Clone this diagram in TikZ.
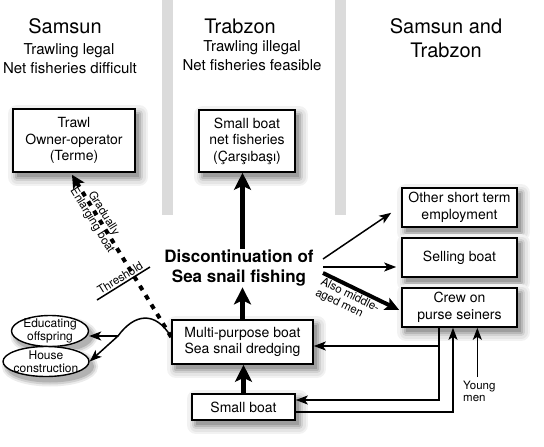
\documentclass[tikz,border=0pt]{standalone}
\usepackage{fontspec}
\setmainfont{TeX Gyre Heros}
\usetikzlibrary{arrows.meta, calc, shapes.geometric}
\tikzset{
  band/.style={fill=black!14, draw=none},
  shad/.style={
    preaction={draw=black!5, fill=black!5, line width=18pt, line join=round, transform canvas={shift={(4pt,-5pt)}}},
    preaction={draw=black!10, fill=black!10, line width=13pt, line join=round, transform canvas={shift={(4pt,-5pt)}}},
    preaction={draw=black!18, fill=black!18, line width=8pt, line join=round, transform canvas={shift={(4pt,-5pt)}}},
    preaction={draw=black!28, fill=black!28, line width=4pt, line join=round, transform canvas={shift={(4pt,-5pt)}}},
    preaction={draw=none, fill=black!38, transform canvas={shift={(4pt,-5pt)}}}},
  ovalshad/.style={
    preaction={draw=black!8, fill=black!8, line width=10pt, transform canvas={shift={(4pt,-5pt)}}},
    preaction={draw=black!18, fill=black!18, line width=6pt, transform canvas={shift={(4pt,-5pt)}}},
    preaction={draw=black!30, fill=black!30, line width=2pt, transform canvas={shift={(4pt,-5pt)}}}},
  box/.style={shad, draw, line width=1.6pt, fill=white, inner sep=0pt, align=center, font=\fontsize{14}{16.5}\selectfont},
  oval/.style={ovalshad, ellipse, draw, line width=1.4pt, fill=white, inner xsep=-4pt, inner ysep=-4pt, align=center, font=\fontsize{12}{12.5}\selectfont},
  ttl/.style={font=\fontsize{20}{24}\selectfont, anchor=base, inner sep=0pt},
  subt/.style={font=\fontsize{15}{18}\selectfont, anchor=base, inner sep=0pt},
  lbl/.style={font=\fontsize{11.5}{12}\selectfont},
  conn/.style={line width=1.5pt},
  thinarr/.style={line width=1.5pt, -{Stealth[length=12pt, width=9pt, inset=3pt]}},
  thickarr/.style={line width=4.5pt, -{Stealth[length=17pt, width=17pt, inset=4pt]}},
  medarr/.style={line width=4pt, -{Stealth[length=14pt, width=13pt, inset=3pt]}},
  dasharr/.style={line width=4pt, dash pattern=on 5pt off 6pt, -{Stealth[length=13pt, width=13pt, inset=3pt]}},
}
\begin{document}
\begin{tikzpicture}[x=1pt, y=-1pt]
\useasboundingbox (0,0) rectangle (544,447);
% background bands
\fill[band] (162,0) rectangle (173,215);
\fill[band] (335,0) rectangle (346,215);

% headers
\node[ttl] (h1) at (65,34) {Samsun};
\node[subt] (h1a) at (69,54) {Trawling legal};
\node[subt] (h1b) at (70,73) {Net fisheries difficult};
\node[ttl] (h2) at (240,33) {Trabzon};
\node[subt] (h2a) at (252,51.5) {Trawling illegal};
\node[subt] (h2b) at (252,70.5) {Net fisheries feasible};
\node[ttl] (h3) at (446,33) {Samsun and};
\node[ttl] (h3b) at (446,57) {Trabzon};

% boxes
\node[box, minimum width=122pt, minimum height=63pt] (trawl) at (74,140.5) {Trawl\\Owner-operator\\(Terme)};
\node[box, minimum width=96pt, minimum height=62pt] (netf) at (247,141) {Small boat\\net fisheries\\(Çarşıbaşı)};
\node[box, minimum width=141pt, minimum height=44pt] (multi) at (242.5,342) {Multi-purpose boat\\Sea snail dredging};
\node[box, minimum width=103pt, minimum height=26pt] (small) at (243.5,407) {Small boat};
\node[box, minimum width=115pt, minimum height=39pt] (other) at (459.5,207.5) {Other short term\\employment};
\node[box, minimum width=115pt, minimum height=39pt] (selling) at (459.5,257.5) {Selling boat};
\node[box, minimum width=115pt, minimum height=39pt] (crew) at (459.5,307.5) {Crew on\\purse seiners};
\node[oval, minimum width=77pt, minimum height=31pt] (educ) at (50,331) {Educating\\offspring};
\node[oval, minimum width=86pt, minimum height=30pt] (house) at (46,361.5) {House\\construction};

\node[font=\bfseries\fontsize{17}{20}\selectfont, align=center, inner sep=1pt] (disc) at (239,268) {Discontinuation of\\Sea snail fishing};

% vertical thick arrows
\draw[thickarr] (small.north) -- (small.north |- multi.south);
\draw[thickarr] (multi.north) -- (multi.north |- disc.south);
\draw[thickarr] (multi.north |- disc.north) -- (multi.north |- netf.south);

% arrows to the right
\coordinate (d1) at (323,259);
\coordinate (d2) at (323,267);
\coordinate (d3) at (323,273);
\draw[thinarr] (d1) -- ($(other.south west)+(-10,-15)$);
\draw[thinarr] (d2) -- ($(selling.west)+(-5,9.5)$);
\draw[medarr] (d3) -- node[sloped, below, pos=0.4, lbl, align=left, inner sep=1pt] {Also middle-\\aged men} ($(crew.west)+(-2,2.5)$);

% crew connectors
\coordinate (c1) at ($(crew.south)+(-20.5,0)$);
\coordinate (c2) at ($(crew.south)+(-6.5,0)$);
\coordinate (mE) at ($(multi.east)+(0,4)$);
\draw[thinarr] (c1) |- ($(small.east)+(0,-7)$);
\draw[thinarr] (c1 |- mE) -- (mE);
\draw[thinarr] ($(small.east)+(0,5)$) -| (c2);

% young men
\node[lbl, align=left, anchor=north west, inner sep=0pt] (young) at (463,381) {Young\\men};
\coordinate (ym) at ($(young.north)+(-2,-4)$);
\draw[thinarr] (ym) -- (ym |- crew.south);

% curve to ellipses
\coordinate (mw) at ($(multi.west)+(0,-5)$);
\coordinate (split) at (118,336);
\draw[thinarr] (mw) .. controls (155,310) and (134,314) .. (split) -- (house.east);
\draw[thinarr] (split) -- (split -| educ.east);

% dashed enlarging arrow
\draw[dasharr] (mw) -- node[sloped, pos=0.74, lbl, align=center, inner sep=0pt, font=\fontsize{11.5}{13.5}\selectfont] {Gradually\\Enlarging boat} ($(trawl.south)+(-2,2)$);

% threshold
\coordinate (th1) at (97,300);
\coordinate (th2) at (150,267);
\draw[conn] (th1) -- node[sloped, above, lbl, inner sep=1.5pt] {Threshold} (th2);
\end{tikzpicture}
\end{document}
